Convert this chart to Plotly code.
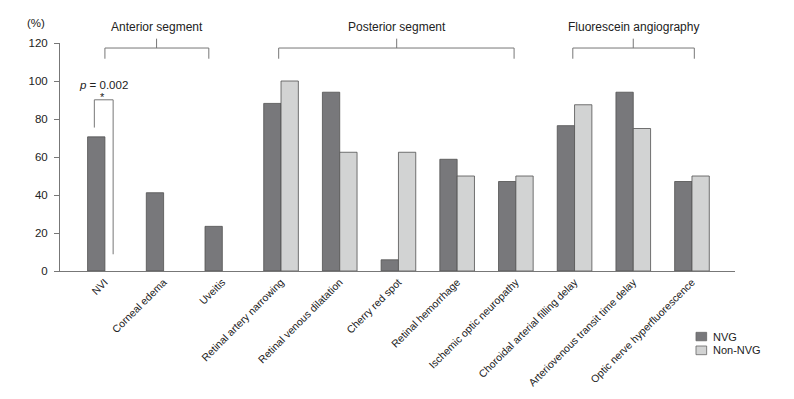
import plotly.graph_objects as go

categories = ["NVI", "Corneal edema", "Uveitis", "Retinal artery narrowing",
              "Retinal venous dilatation", "Cherry red spot", "Retinal hemorrhage",
              "Ischemic optic neuropathy", "Choroidal arterial filling delay",
              "Arteriovenous transit time delay", "Optic nerve hyperfluorescence"]
nvg = [70.6, 41.2, 23.5, 88.2, 94.1, 5.9, 58.8, 47.1, 76.5, 94.1, 47.1]
non_nvg = [None, None, None, 100, 62.5, 62.5, 50, 50, 87.5, 75, 50]
series_names = ["NVG", "Non-NVG"]
y_ticks = [0, 20, 40, 60, 80, 100, 120]

groups = [("Anterior segment", 0.0, 1.77, 0.88),
          ("Posterior segment", 2.96, 6.97, 4.97),
          ("Fluorescein angiography", 7.97, 10.04, 9.0)]

C_NVG = "#78787b"
C_NON = "#d2d3d3"
C_EDGE = "#505050"
TXT = "#222222"
FONT = "Liberation Sans, Arial, sans-serif"

idx = list(range(len(categories)))

fig = go.Figure()
fig.add_bar(x=idx, y=nvg, name=series_names[0], marker=dict(color=C_NVG, line=dict(color=C_EDGE, width=0.8)))
fig.add_bar(x=idx, y=non_nvg, name=series_names[1], marker=dict(color=C_NON, line=dict(color=C_EDGE, width=0.8)))

shapes = []
annotations = []
line_style = dict(color="#777777", width=1)
for name, x0, x1, xc in groups:
    shapes.append(dict(type="line", xref="x", yref="paper", x0=x0, x1=x1, y0=0.978, y1=0.978, line=line_style))
    shapes.append(dict(type="line", xref="x", yref="paper", x0=x0, x1=x0, y0=0.978, y1=0.931, line=line_style))
    shapes.append(dict(type="line", xref="x", yref="paper", x0=x1, x1=x1, y0=0.978, y1=0.931, line=line_style))
    shapes.append(dict(type="line", xref="x", yref="paper", x0=xc, x1=xc, y0=0.978, y1=1.019, line=line_style))
    annotations.append(dict(text=name, xref="x", yref="paper", x=xc, y=1.0716, showarrow=False,
                            font=dict(size=12, color=TXT, family=FONT), xanchor="center", yanchor="middle"))

# p-value bracket
shapes.append(dict(type="path", xref="x", yref="y", path="M -0.18 75.5 L -0.18 90.1 L 0.14 90.1 L 0.14 8.8",
                   line=line_style))
annotations.append(dict(text="<i>p</i> = 0.002", xref="x", yref="y", x=-0.02, y=98.0, showarrow=False,
                        font=dict(size=11.5, color=TXT, family=FONT), xanchor="center", yanchor="middle"))
annotations.append(dict(text="*", xref="x", yref="y", x=-0.04, y=91.5, showarrow=False,
                        font=dict(size=11, color=TXT, family=FONT), xanchor="center", yanchor="middle"))

# y unit label
annotations.append(dict(text="(%)", xref="paper", yref="paper", x=-0.0356, y=1.089, showarrow=False,
                        font=dict(size=11.5, color=TXT, family=FONT), xanchor="center", yanchor="middle"))

# manual legend
leg = [(series_names[0], C_NVG, -0.269, -0.306), (series_names[1], C_NON, -0.329, -0.367)]
for name, col, ya, yb in leg:
    shapes.append(dict(type="rect", xref="paper", yref="paper", x0=0.9422, x1=0.958, y0=yb, y1=ya,
                       fillcolor=col, line=dict(color="#666666", width=0.8)))
    annotations.append(dict(text=name, xref="paper", yref="paper", x=0.9644, y=(ya + yb) / 2, showarrow=False,
                            font=dict(size=11, color=TXT, family=FONT), xanchor="left", yanchor="middle"))

fig.update_layout(
    template="none",
    width=794, height=399,
    margin=dict(l=60, r=59, t=43, b=128, autoexpand=False),
    barmode="group", bargap=0.41, bargroupgap=0,
    showlegend=False,
    plot_bgcolor="white", paper_bgcolor="white",
    font=dict(family=FONT, color=TXT),
    shapes=shapes, annotations=annotations,
)
fig.update_xaxes(range=[-0.765, 10.733], tickmode="array", tickvals=idx, ticktext=categories,
                 tickangle=-45, tickfont=dict(size=10.5, color=TXT, family=FONT),
                 showline=True, linecolor="#777777", linewidth=1, ticks="", showgrid=False,
                 zeroline=False, automargin=False)
fig.update_yaxes(range=[0, 120], tickvals=y_ticks, ticks="outside", ticklen=5, tickcolor="#777777",
                 tickfont=dict(size=11.5, color=TXT, family=FONT), ticklabelstandoff=4,
                 showline=True, linecolor="#777777", linewidth=1, showgrid=False, zeroline=False,
                 automargin=False)

fig.write_html("out.html", config={"displayModeBar": False},
               post_script="document.body.style.margin='0';document.body.style.overflow='hidden';")
